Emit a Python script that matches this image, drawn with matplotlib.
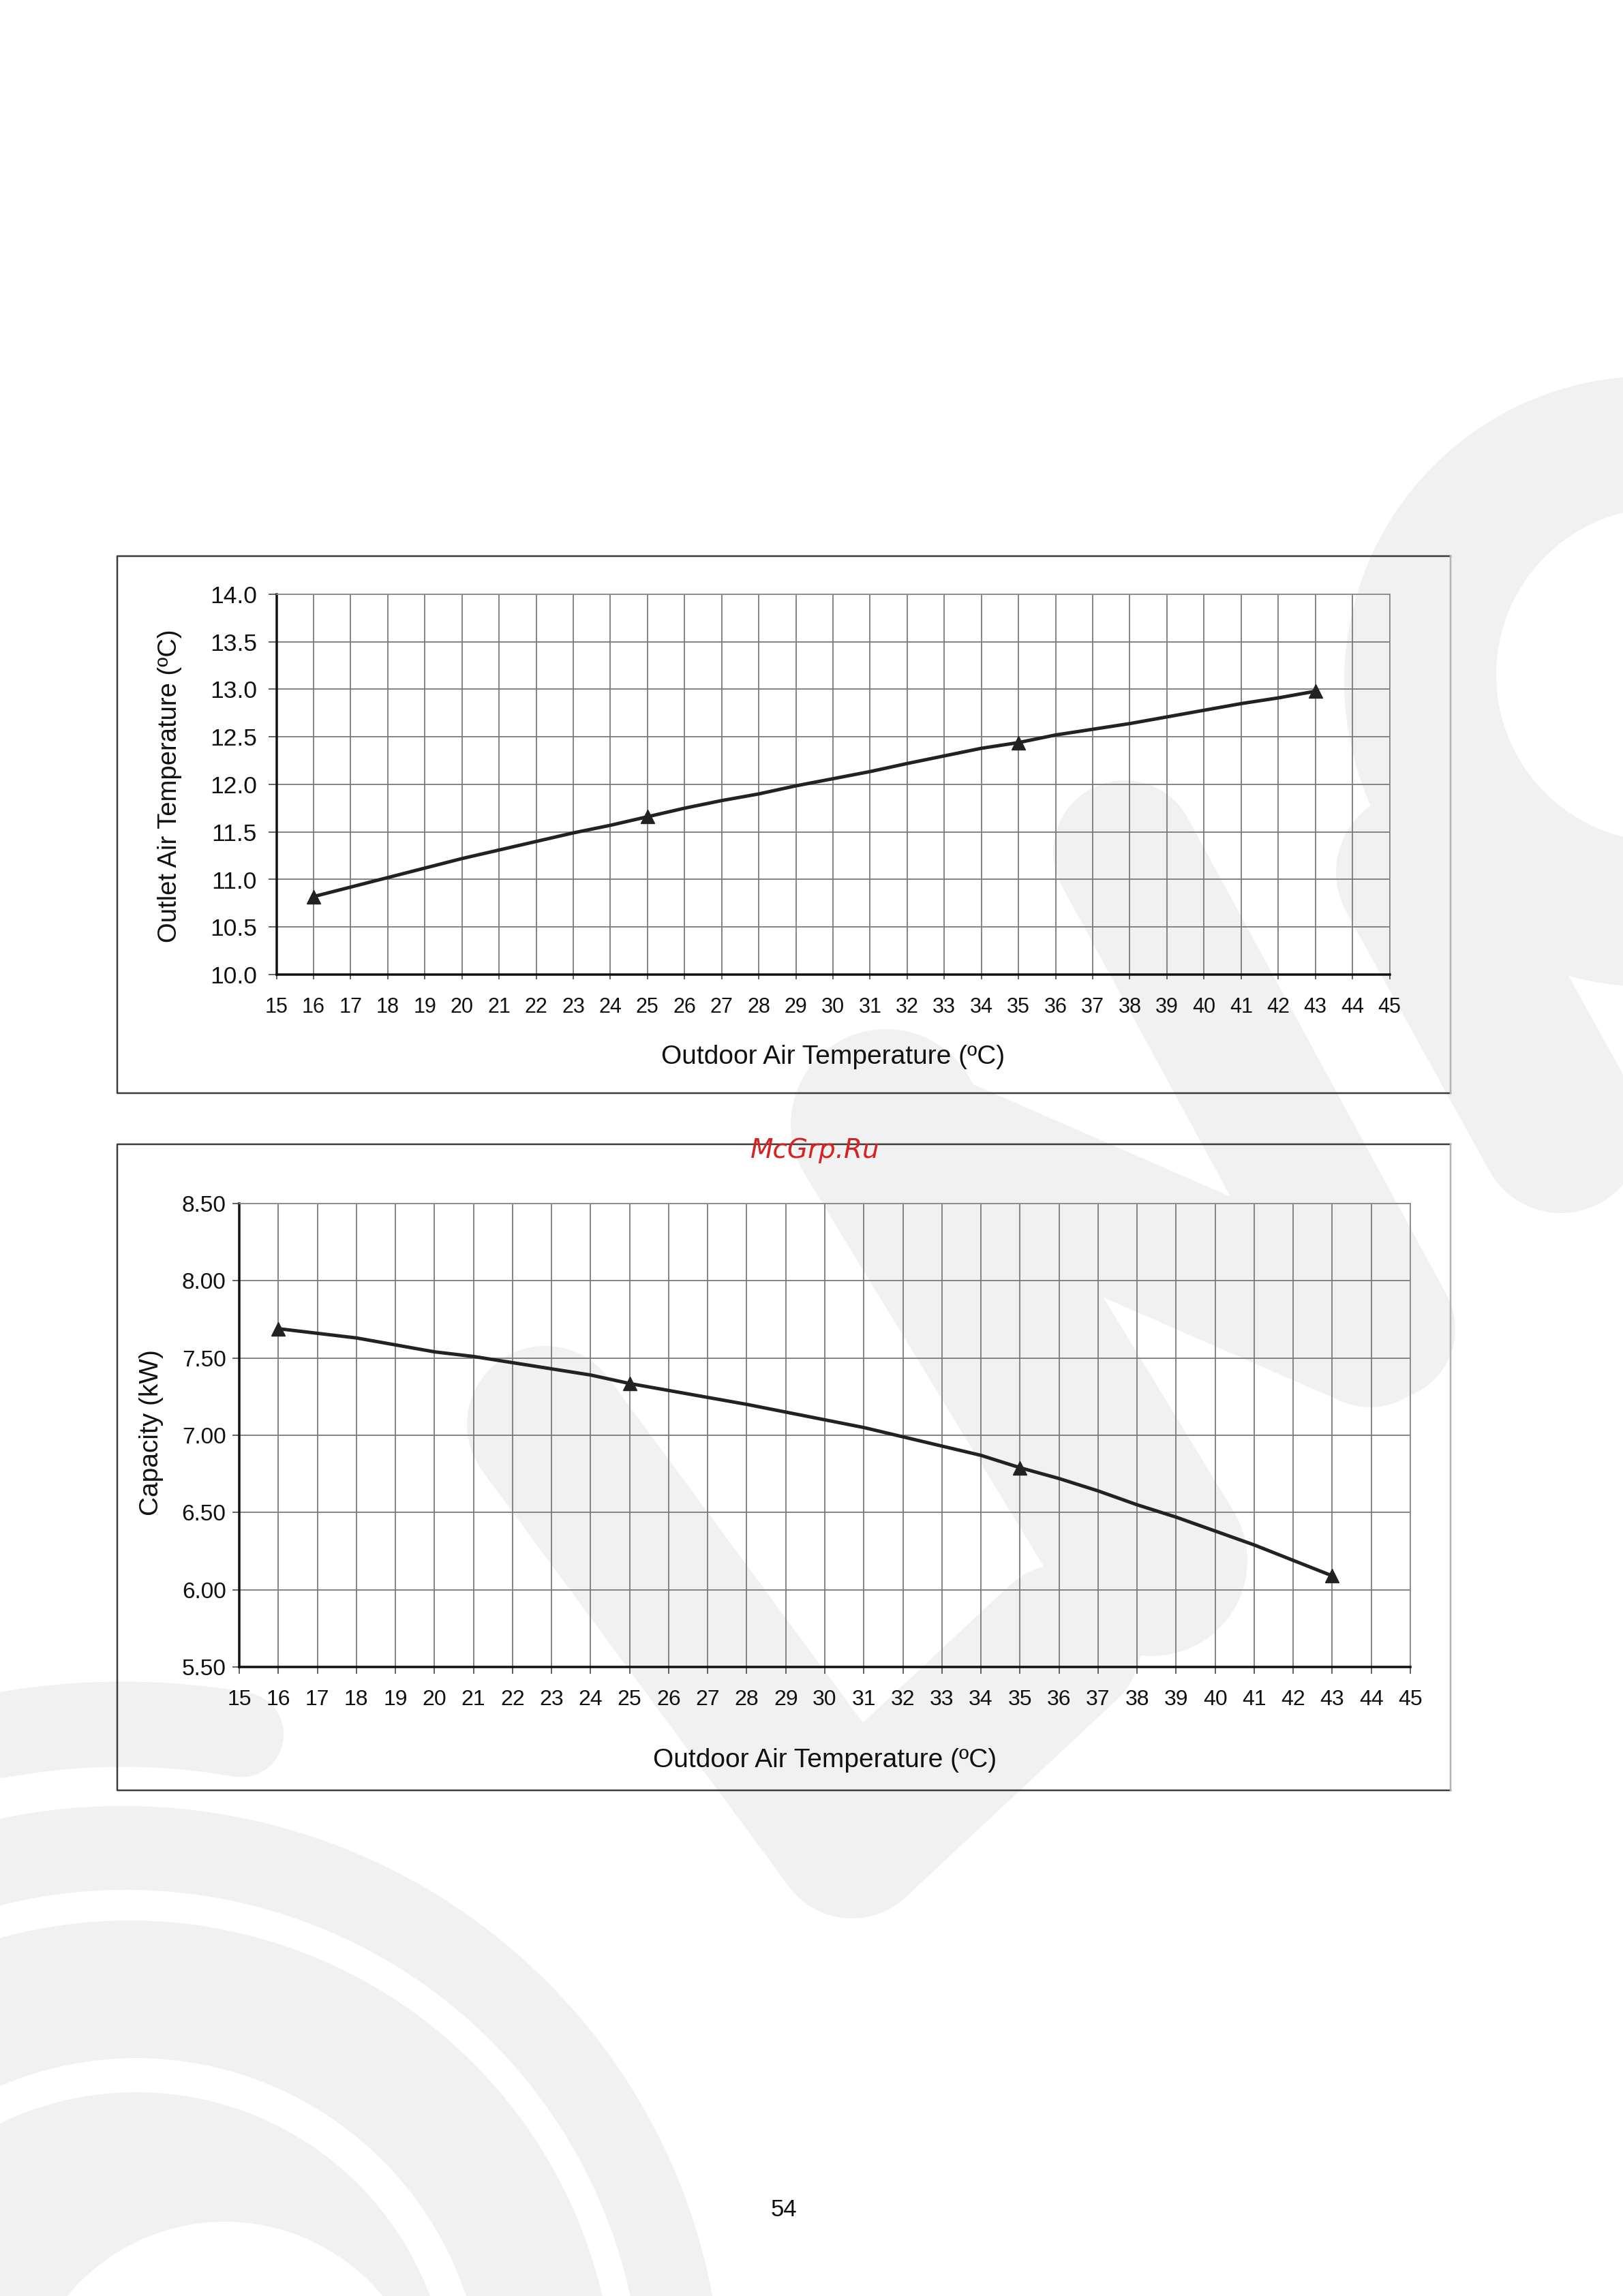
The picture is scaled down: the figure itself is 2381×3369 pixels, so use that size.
import matplotlib.pyplot as plt
import numpy as np
from matplotlib.patches import Circle

plt.rcParams['font.family'] = ['Liberation Sans', 'DejaVu Sans']

W, H = 2381, 3369

# data
outdoor = list(range(16, 44))
outlet_temp = [10.82, 10.92, 11.02, 11.12, 11.22, 11.31, 11.40, 11.49, 11.57, 11.66,
               11.75, 11.83, 11.90, 11.985, 12.06, 12.135, 12.22, 12.30, 12.38, 12.44,
               12.52, 12.58, 12.64, 12.71, 12.78, 12.85, 12.91, 12.98]
capacity = [7.69, 7.66, 7.63, 7.585, 7.54, 7.51, 7.47, 7.43, 7.39, 7.335,
            7.29, 7.245, 7.20, 7.15, 7.10, 7.05, 6.99, 6.93, 6.87, 6.79,
            6.72, 6.64, 6.55, 6.47, 6.38, 6.29, 6.19, 6.09]
marked = [16, 25, 35, 43]
x_ticks = list(range(15, 46))
outlet_ticks = [10.0, 10.5, 11.0, 11.5, 12.0, 12.5, 13.0, 13.5, 14.0]
cap_ticks = [5.50, 6.00, 6.50, 7.00, 7.50, 8.00, 8.50]

xlabel = "Outdoor Air Temperature (\u00baC)"

fig = plt.figure(figsize=(W / 100, H / 100), dpi=100)
fig.patch.set_facecolor('white')


def px(v):
    # pixels -> points
    return v * 0.72


# background page (pixel coordinates)
bg = fig.add_axes([0, 0, 1, 1], zorder=-10)
bg.set_xlim(0, W)
bg.set_ylim(H, 0)
bg.axis('off')

wm = '#f1f1f1'
# watermark logo, rough
bg.add_patch(Circle((2420, 1000), 448, color=wm, lw=0))
bg.add_patch(Circle((2440, 990), 245, color='white', lw=0))
for (xs, ys, w) in [([2080, 2290], [1280, 1660], 240),
                    ([1650, 2030], [1250, 1950], 210),
                    ([1300, 1690], [1650, 2290], 280),
                    ([1300, 2010], [1650, 1960], 210),
                    ([800, 1250, 1560], [2090, 2700, 2410], 230)]:
    bg.plot(xs, ys, color=wm, lw=px(w), solid_capstyle='round',
            solid_joinstyle='round')
th = np.linspace(np.radians(80), np.radians(110), 40)
bg.plot(180 + 1000 * np.cos(th), 3530 - 1000 * np.sin(th), color=wm,
        lw=px(125), solid_capstyle='round')
for (cx, cy, r, c) in [(180, 3530, 880, wm), (185, 3530, 757, 'white'),
                       (190, 3530, 712, wm), (200, 3530, 510, 'white'),
                       (200, 3530, 460, wm), (330, 3560, 300, 'white')]:
    bg.add_patch(Circle((cx, cy), r, color=c, lw=0))

# chart frames
for (y0, y1) in [(816, 1604), (1679, 2627)]:
    bg.plot([2128, 172, 172, 2128], [y0, y0, y1, y1], color='#3c3c3c', lw=px(2.5))
    bg.plot([2128, 2128], [y0, y1], color='#b4b4b4', lw=px(2.5))


def frac(x0, x1, y0, y1):
    return [x0 / W, 1 - y1 / H, (x1 - x0) / W, (y1 - y0) / H]


def style(ax, yt, fmt, ysize, xsize, ylen, ypad, xlen, xpad):
    ax.set_facecolor('none')
    ax.set_xlim(15, 45)
    ax.set_xticks(x_ticks)
    ax.set_yticks(yt)
    ax.set_yticklabels([fmt % v for v in yt])
    ax.set_ylim(yt[0], yt[-1])
    ax.grid(True, color='#7a7a7a', lw=px(1.8))
    ax.set_axisbelow(True)
    for s in ['top', 'right']:
        ax.spines[s].set_color('#8a8a8a')
        ax.spines[s].set_linewidth(px(1.8))
    for s in ['left', 'bottom']:
        ax.spines[s].set_color('#111111')
        ax.spines[s].set_linewidth(px(3.5))
    ax.tick_params(axis='y', direction='out', length=ylen, width=px(1.8),
                   color='#555555', pad=ypad, labelsize=ysize, labelcolor='#111111')
    ax.tick_params(axis='x', direction='out', length=xlen, width=px(1.8),
                   color='#555555', pad=xpad, labelsize=xsize, labelcolor='#111111')


# top chart
ax1 = fig.add_axes(frac(405.5, 2038.5, 872, 1430))
style(ax1, outlet_ticks, '%.1f', 25.5, 22, 9, 11.5, 5, 19)
ax1.plot(outdoor, outlet_temp, color='#222222', lw=px(5))
ax1.plot(marked, [outlet_temp[outdoor.index(m)] for m in marked], ls='none',
         marker='^', ms=15, color='#222222')
ax1.set_xlabel(xlabel, fontsize=28, va='baseline', color='#111111')
ax1.xaxis.set_label_coords(0.5, -0.2348)
ax1.set_ylabel("Outlet Air Temperature (\u00baC)", fontsize=27.5, color='#111111',
               va='baseline', ha='center', rotation_mode='anchor')
ax1.yaxis.set_label_coords(-0.0897, 0.496)

# bottom chart
ax2 = fig.add_axes(frac(351, 2069, 1766, 2446))
style(ax2, cap_ticks, '%.2f', 24, 23, 7, 7, 7.5, 16)
ax2.plot(outdoor, capacity, color='#222222', lw=px(5))
ax2.plot(marked, [capacity[outdoor.index(m)] for m in marked], ls='none',
         marker='^', ms=15, color='#222222')
ax2.set_xlabel(xlabel, fontsize=28, va='baseline', color='#111111')
ax2.xaxis.set_label_coords(0.5, -0.216)
ax2.set_ylabel("Capacity (kW)", fontsize=28, color='#111111',
               va='baseline', ha='center', rotation_mode='anchor')
ax2.yaxis.set_label_coords(-0.0693, 0.506)

# site mark and page number
bg.text(1196, 1699, "McGrp.Ru", family='DejaVu Sans', style='italic',
        fontsize=28, color='#d62222', ha='center', va='baseline', zorder=5)
bg.text(1150, 3252, "54", fontsize=25, color='#111111', ha='center', va='baseline')

fig.savefig('out.png', dpi=100)
